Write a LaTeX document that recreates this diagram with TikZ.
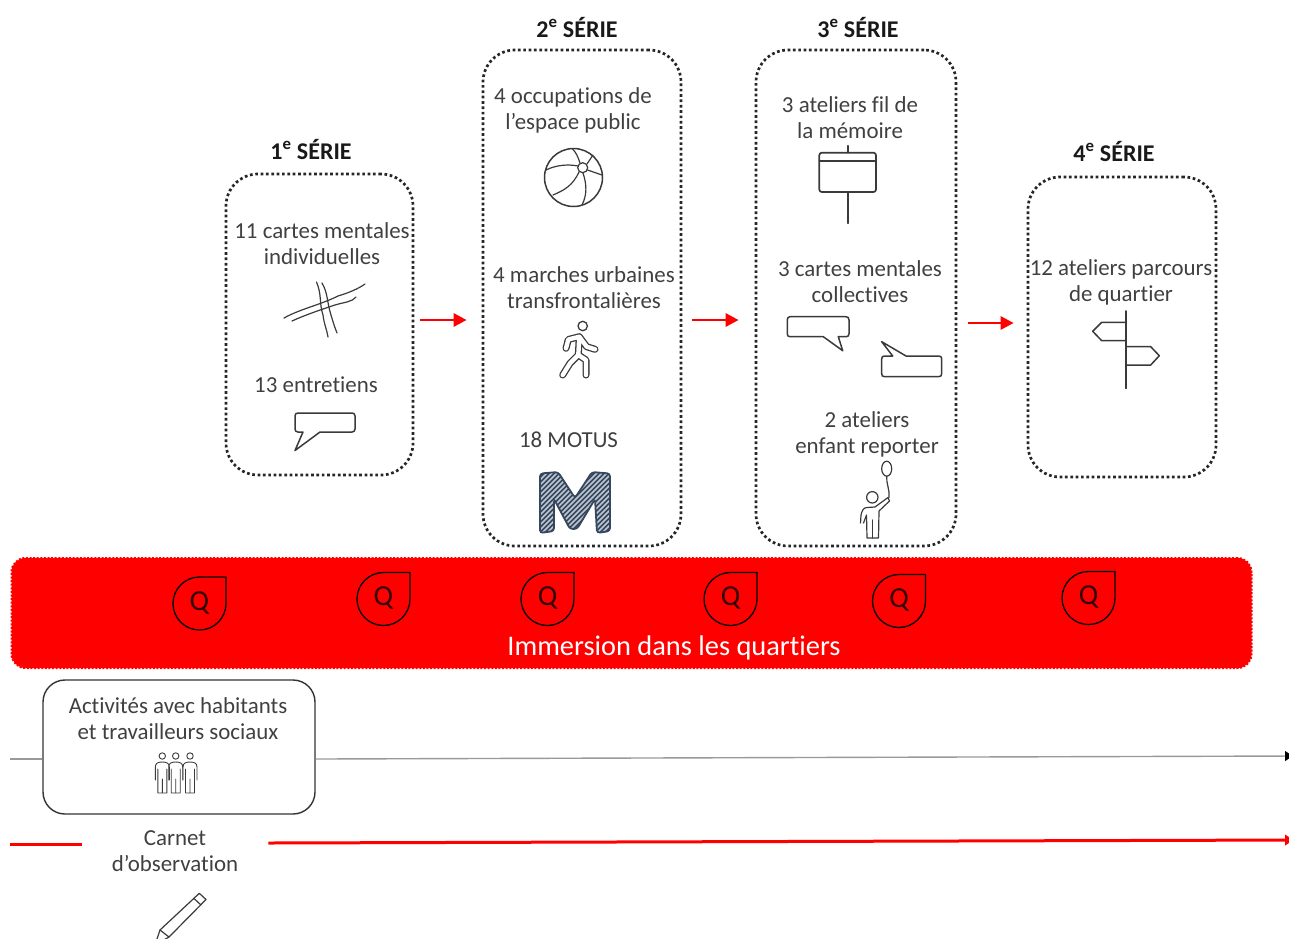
\documentclass[tikz,border=0pt]{standalone}
\usepackage{fontspec}
\setmainfont[Ligatures=NoCommon]{Carlito}
\usetikzlibrary{arrows.meta}
\definecolor{txt}{HTML}{404040}
\definecolor{ico}{HTML}{3A3A3A}
\definecolor{motus}{HTML}{36465C}
\definecolor{motusl}{HTML}{BCC6D4}
\tikzset{
  x=1pt,y=-1pt,
  seriebox/.style={draw=black!85,line width=2.7pt,dash pattern=on 2.7pt off 2.65pt,rounded corners=32pt,minimum width=#1,inner sep=0pt},
  label/.style={text=txt,font=\fontsize{22.9}{26}\selectfont,align=center,inner sep=0pt},
  title/.style={text=black!90,font=\fontsize{24}{26}\selectfont\bfseries,inner sep=0pt},
  redarrow/.style={draw=red,line width=2.8pt,-{Triangle[length=13pt,width=13pt]}},
  icon/.style={draw=ico,line width=1.5pt,line join=round,line cap=round},
  thinicon/.style={draw=ico,line width=1.2pt,line join=round,line cap=round},
  dropq/.pic={
    \draw[black,line width=1.3pt] (26.5,-26.5) -- (26.5,0) .. controls (26.5,14.6) and (14.6,26.5) .. (0,26.5) .. controls (-14.6,26.5) and (-26.5,14.6) .. (-26.5,0) .. controls (-26.5,-14.6) and (-14.6,-26.5) .. (0,-26.5) -- cycle;
    \node[text=black!80!red,font=\fontsize{29}{29}\selectfont,inner sep=0pt] at (0,-1) {Q};
  },
  person/.pic={
    \draw[thinicon,line width=.9pt] (0,0) circle[radius=3.2pt];
    \draw[thinicon,line width=.9pt] (-7,24) -- (-7,11) .. controls (-7,7) and (-4,6) .. (0,6) .. controls (4,6) and (7,7) .. (7,11) -- (7,24) (-4.5,13) -- (-4.5,37) -- (4.5,37) -- (4.5,13) (0,23) -- (0,37);
  }
}
\begin{document}
\begin{tikzpicture}
\useasboundingbox (0,0) rectangle (1289,938);
% series boxes
\node[seriebox=187pt,minimum height=301pt] (s1) at (319.5,324.5) {};
\node[seriebox=198pt,minimum height=496pt] (s2) at (582,298) {};
\node[seriebox=200pt,minimum height=496pt] (s3) at (856,298) {};
\node[seriebox=188pt,minimum height=300pt] (s4) at (1122,327) {};
% titles
\node[title] (t1) at (311,149) {1\textsuperscript{e} SÉRIE};
\node[title] (t2) at (577,27) {2\textsuperscript{e} SÉRIE};
\node[title] (t3) at (858,27) {3\textsuperscript{e} SÉRIE};
\node[title] (t4) at (1114,151) {4\textsuperscript{e} SÉRIE};
% labels
\node[label] (l11) at (322,244) {11 cartes mentales\\individuelles};
\node[label] (l12) at (316,385) {13 entretiens};
\node[label] (l21) at (573,110.5) {4 occupations de\\l’espace public};
\node[label] (l22) at (584,288) {4 marches urbaines\\transfrontalières};
\node[label] (l23) at (568.5,440) {18 MOTUS};
\node[label] (l31) at (850,118) {3 ateliers fil de\\la mémoire};
\node[label] (l32) at (860,282) {3 cartes mentales\\collectives};
\node[label] (l33) at (867,434) {2 ateliers\\enfant reporter};
\node[label] (l41) at (1121,282) {12 ateliers parcours\\de quartier};
% red arrows between series
\draw[redarrow,shorten <=6pt,shorten >=15pt] ([yshift=4.5pt]s1.east) -- ([yshift=-22pt]s2.west);
\draw[redarrow,shorten <=10pt,shorten >=16pt] ([yshift=-22pt]s2.east) -- ([yshift=-22pt]s3.west);
\draw[redarrow,shorten <=11pt,shorten >=13pt] ([yshift=-25pt]s3.east) -- ([yshift=4pt]s4.west);
% immersion band
\node[draw=red,fill=red,line width=2pt,dash pattern=on 2pt off 1.6pt,rounded corners=14pt,minimum width=1240pt,minimum height=110pt,inner sep=0pt] (band) at (631.5,613) {};
\node[text=white,font=\fontsize{28.4}{30}\selectfont,inner sep=0pt] (bandt) at (674,648) {Immersion dans les quartiers};
\pic (q1) at (199.5,603.5) {dropq};
\pic (q2) at (383.5,599) {dropq};
\pic (q3) at (547.5,599) {dropq};
\pic (q4) at (730.5,599) {dropq};
\pic (q5) at (899,601) {dropq};
\pic (q6) at (1088.5,598) {dropq};
% timeline gray
\node[draw=black!80,line width=1.4pt,rounded corners=22pt,minimum width=272pt,minimum height=134pt,inner sep=0pt] (act) at (179,747) {};
\node[label] (actt) at (178,719) {Activités avec habitants\\et travailleurs sociaux};
\coordinate (g0) at (10,759);
\coordinate (g1) at (1294,756);
\draw[draw=black!40,line width=1.4pt] (g0) -- ([yshift=-12pt]act.west);
\draw[draw=black!40,line width=1.4pt,-{Latex[black,length=9pt,width=11pt]}] ([yshift=-12pt]act.east) -- (g1);
% timeline red
\node[label] (carnet) at (175,851.5) {Carnet\\d’observation};
\coordinate (r0) at (10,844);
\coordinate (r1) at (1295,840);
\draw[draw=red,line width=3pt] (r0) -- ([xshift=-30pt,yshift=7.5pt]carnet.west);
\draw[draw=red,line width=3pt,-{Latex[red,length=10pt,width=12pt]}] ([xshift=30pt,yshift=8.5pt]carnet.east) -- (r1);
% map icon
\draw[thinicon] (284,318) .. controls (300,309) and (320,305) .. (338,296) .. controls (348,293) and (358,289) .. (365,284);
\draw[thinicon] (292,321) .. controls (305,315) and (320,310) .. (335,305) .. controls (345,302) and (352,302) .. (356,297);
\draw[thinicon] (316.5,282) .. controls (322,295) and (319,303) .. (323,315) .. controls (324,324) and (327,330) .. (328,337);
\draw[thinicon] (322,283) .. controls (328,293) and (327,303) .. (331,315) .. controls (333,322) and (335,328) .. (337,333);
% speech bubble 1
\draw[icon] (298,413) -- (352,413) .. controls (354,413) and (355,414) .. (355,416) -- (355,429) .. controls (355,431) and (354,432) .. (352,432) -- (320,432) -- (295,450.5) -- (303,432) -- (298,432) .. controls (296,432) and (295,431) .. (295,429) -- (295,416) .. controls (295,414) and (296,413) .. (298,413) -- cycle;
% ball
\draw[icon] (573.5,177.5) circle[radius=29pt];
\draw[thinicon] (582.7,167.7) circle[radius=5pt];
\draw[thinicon] (578,166) .. controls (568,164) and (556,165) .. (546,170);
\draw[thinicon] (580,163) .. controls (578,157) and (576,152) .. (572,148.5);
\draw[thinicon] (587,164) -- (593,155);
\draw[thinicon] (587.5,170) -- (602,175);
\draw[thinicon] (583,173) .. controls (587,185) and (587,195) .. (582,205);
\draw[thinicon] (579,172) .. controls (573,185) and (565,190) .. (553,195);
% walker
\draw[draw=ico,line width=1.3pt] (582.7,326) circle[radius=4.7pt];
\foreach \w/\c in {7pt/ico,4.4pt/white}{
  \draw[draw=\c,line width=\w,line cap=round,line join=round]
    (566,348.3) -- (568.3,339.5) -- (579.3,336.7) -- (586.7,346.7) -- (595,349.3)
    (579.3,336.7) -- (578.3,355) -- (570,363.3) -- (562.7,375)
    (578.3,355) -- (586,360) -- (586,375);
}
% MOTUS logo
\begin{scope}
  \clip[rounded corners=3pt] (540,473.5) -- (558,472) -- (575,498) -- (592,472) -- (610,473.5) -- (610,531) -- (597,533) -- (595,499) -- (577,529) -- (570,529) -- (554,499) -- (554,531) -- (540,533) -- cycle;
  \fill[motus] (535,468) rectangle (615,537);
  \foreach \k in {470,475,...,620}{
    \draw[motusl,line width=1.7pt] (\k,540) -- (\k+75,465);
  }
\end{scope}
\draw[motus,line width=1.8pt,rounded corners=3pt] (540,473.5) -- (558,472) -- (575,498) -- (592,472) -- (610,473.5) -- (610,531) -- (597,533) -- (595,499) -- (577,529) -- (570,529) -- (554,499) -- (554,531) -- (540,533) -- cycle;
% memory board
\draw[icon,line width=1.7pt,rounded corners=2.5pt] (819.3,152.7) rectangle (876,192);
\draw[icon,line width=1.5pt] (819.3,161) -- (876,161);
\draw[icon,line width=1.7pt] (847.7,145.7) -- (847.7,152.7);
\draw[icon,line width=1.7pt] (847.7,192) -- (847.7,223.3);
% speech bubble A
\draw[icon] (790,316.7) -- (846,316.7) .. controls (848,316.7) and (849,318) .. (849,320) -- (849,333.7) .. controls (849,335.7) and (848,336.7) .. (846,336.7) -- (838.3,336.7) -- (842.7,350.7) -- (823.3,336.7) -- (790,336.7) .. controls (788,336.7) and (787.3,335.7) .. (787.3,333.7) -- (787.3,320) .. controls (787.3,318) and (788,316.7) .. (790,316.7) -- cycle;
% speech bubble B
\draw[icon] (884.5,356) -- (892.7,356) -- (881.7,341.7) -- (906,356) -- (938.7,356) .. controls (940.7,356) and (941.7,357) .. (941.7,359) -- (941.7,373.7) .. controls (941.7,375.7) and (940.7,376.7) .. (938.7,376.7) -- (884.5,376.7) .. controls (882.5,376.7) and (881.7,375.7) .. (881.7,373.7) -- (881.7,359) .. controls (881.7,357) and (882.5,356) .. (884.5,356) -- cycle;
% child with balloon
\draw[thinicon] (872.3,497.3) circle[radius=5.7pt];
\draw[thinicon] (886.7,468.7) ellipse[x radius=5pt,y radius=7.5pt];
\draw[thinicon] (886.7,476.2) .. controls (886,483) and (890,490) .. (889,497.5);
\draw[thinicon] (860.5,523) -- (861,515) .. controls (862,510) and (864,507.5) .. (867,507.5) -- (875,507) -- (888,497.5) -- (889.5,501) -- (879,511) -- (878.5,538) -- (867,538) -- (866.5,515) -- (863.5,523);
\draw[thinicon] (872.7,520) -- (872.7,538);
% signpost
\draw[icon,line width=1.8pt] (1126,311) -- (1126,388.3);
\draw[icon] (1126,322.3) -- (1101.7,322.3) -- (1092.7,331.3) -- (1101.7,340.7) -- (1126,340.7);
\draw[icon] (1126,346.7) -- (1150.7,346.7) -- (1159.3,355.7) -- (1150.7,365) -- (1126,365);
% group of people
\pic at (162.3,756) {person};
\pic at (175.7,756) {person};
\pic at (190,756) {person};
% pencil
\draw[thinicon] (199.3,893.3) -- (206,899.5) -- (169,937) -- (160,930) -- cycle;
\draw[thinicon] (194,898.5) -- (201,905);
\draw[thinicon] (160,930) -- (155,945) -- (169,937);
\end{tikzpicture}
\end{document}
